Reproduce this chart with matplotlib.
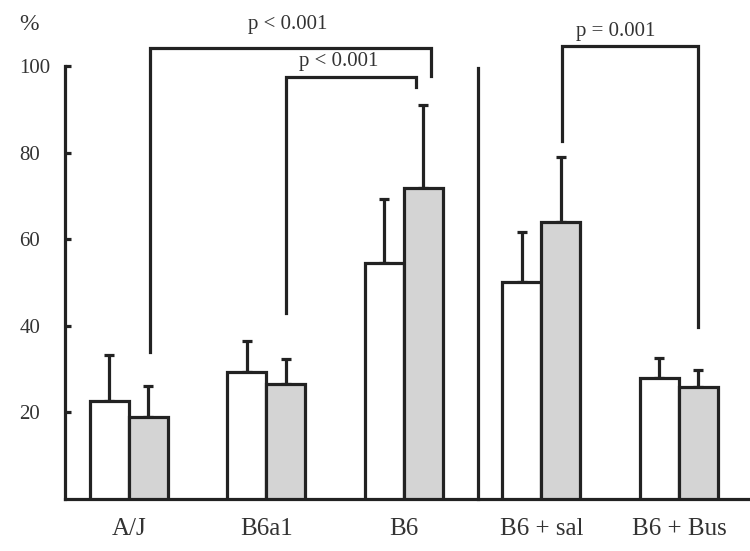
import numpy as np
import matplotlib.pyplot as plt

plt.rcParams["font.family"] = ["Liberation Serif", "DejaVu Serif"]

groups = ["A/J", "B6a1", "B6", "B6 + sal", "B6 + Bus"]
white_vals = [22.7, 29.3, 54.6, 50.1, 28.0]
white_err = [10.6, 7.3, 14.8, 11.6, 4.6]
gray_vals = [18.9, 26.7, 71.8, 64.1, 25.8]
gray_err = [7.3, 5.7, 19.4, 14.9, 4.0]

# significance brackets: left x, right x, top y, left leg end, right leg end
brackets = [
    (0.153, 2.20, 104.2, 34.0, 97.8),
    (1.14, 2.085, 97.6, 43.0, 95.2),
    (3.147, 4.14, 104.8, 82.8, 39.7),
]
p_labels = ["p < 0.001", "p < 0.001", "p = 0.001"]
p_pos = [(1.156, 109.8), (1.527, 101.2), (3.54, 108.2)]

ink = "#222222"
lw = 2.3
w = 0.284
x = np.arange(len(groups))

fig = plt.figure(figsize=(7.5, 5.51), dpi=100)
ax = fig.add_axes([0.0867, 0.0944, 0.9133, 0.9027])

ax.bar(x - w / 2, white_vals, w, color="white", edgecolor=ink, linewidth=lw, zorder=3)
ax.bar(x + w / 2, gray_vals, w, color="#d4d4d4", edgecolor=ink, linewidth=lw, zorder=3)
ax.errorbar(x - w / 2, white_vals, yerr=[np.zeros(5), white_err], fmt="none",
            ecolor=ink, elinewidth=lw, capsize=3.5, capthick=lw, zorder=2)
ax.errorbar(x + w / 2, gray_vals, yerr=[np.zeros(5), gray_err], fmt="none",
            ecolor=ink, elinewidth=lw, capsize=3.5, capthick=lw, zorder=2)

# divider between groups
ax.plot([2.536, 2.536], [0, 99.6], color=ink, lw=lw, clip_on=False)

for (x1, x2, y, yl, yr), lab, (tx, ty) in zip(brackets, p_labels, p_pos):
    ax.plot([x1, x1, x2, x2], [yl, y, y, yr], color=ink, lw=lw,
            solid_joinstyle="miter", clip_on=False)
    ax.text(tx, ty, lab, ha="center", va="center", fontsize=15, color="#333333")

ax.set_xlim(-0.465, 4.517)
ax.set_ylim(0, 115)
ax.set_yticks([20, 40, 60, 80, 100])
ax.set_xticks(x)
ax.set_xticklabels(groups, fontsize=18, color="#333333")
ax.tick_params(axis="x", length=0, pad=14)
ax.tick_params(axis="y", direction="in", length=4, width=lw, pad=33,
               labelsize=15, color=ink, labelcolor="#333333")
for lbl in ax.get_yticklabels():
    lbl.set_horizontalalignment("left")
ax.spines["top"].set_visible(False)
ax.spines["right"].set_visible(False)
ax.spines["left"].set_bounds(0, 100)
for s in ["left", "bottom"]:
    ax.spines[s].set_linewidth(lw)
    ax.spines[s].set_color(ink)

fig.text(0.038, 0.955, "%", ha="center", va="center", fontsize=17, color="#333333")

fig.savefig("out.png", dpi=100)
